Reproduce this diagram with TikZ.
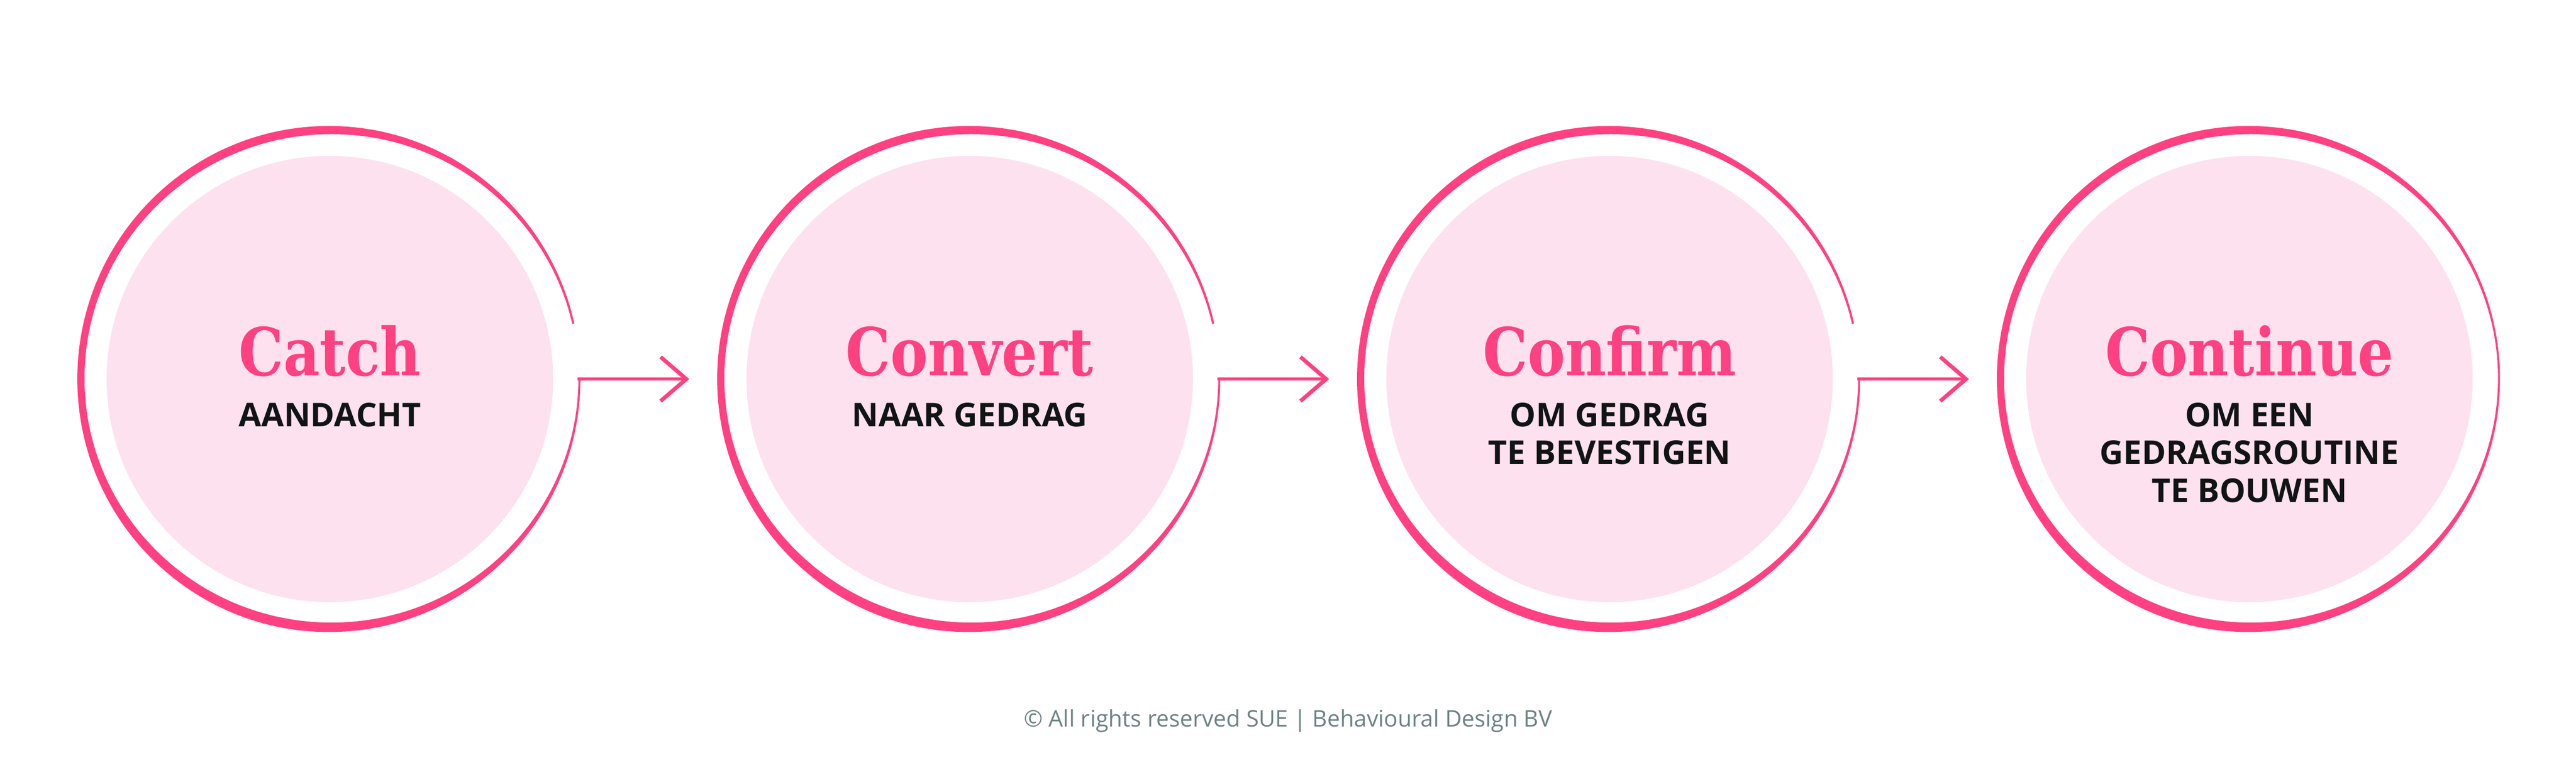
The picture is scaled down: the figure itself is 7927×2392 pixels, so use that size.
\documentclass[tikz,border=0pt]{standalone}
\usepackage{fontspec}
\usetikzlibrary{positioning,arrows.meta}
\setmainfont{Open Sans}
\newfontfamily\headfont{DejaVu Serif}[FakeStretch=0.85]
\definecolor{ringpink}{HTML}{FF4081}
\definecolor{softpink}{HTML}{FDE1EF}
\definecolor{inkblack}{HTML}{111414}
\definecolor{footgray}{HTML}{6E8283}
\tikzstyle{stage}=[
    circle,
    fill = softpink,
    minimum size = 137.4mm,
    inner sep = 0pt
]
\tikzstyle{head}=[font=\headfont\bfseries\fontsize{58}{60}\selectfont, text=ringpink, inner sep=0pt, anchor=base]
\tikzstyle{sub}=[font=\bfseries\fontsize{28.7}{33.3}\selectfont, text=inkblack, inner sep=0pt, anchor=north, align=center]
\tikzstyle{flow}=[draw=ringpink, line width=0.9mm, -{Straight Barb[length=7.9mm, width=13.6mm, sharp, line width=1.2mm]}]

\begin{document}
\begin{tikzpicture}[x=0.1mm, y=0.1mm, node distance=196.9mm, on grid]
        \useasboundingbox (0,0) rectangle (7927,2392);

        \node[stage] (catch) at (1015,1225) {};
        \node[stage, right=of catch] (convert) {};
        \node[stage, right=of convert] (confirm) {};
        \node[stage, right=of confirm] (continue) {};

        % rings, open on the right where the arrow leaves
        \foreach \s in {catch,convert,confirm}{
            \begin{scope}
                \clip (\s.center) -- ++(12.8:90mm) arc[start angle=12.8, end angle=360, radius=90mm] -- cycle;
                \fill[ringpink, even odd rule] ([xshift=-0.3mm]\s.center) ellipse[x radius=77.4mm, y radius=77.9mm]
                    ([xshift=0.5mm, yshift=0.2mm]\s.center) ellipse[x radius=76mm, y radius=75.2mm];
            \end{scope}
        }
        \fill[ringpink, even odd rule] ([xshift=-0.3mm]continue.center) ellipse[x radius=77.4mm, y radius=77.9mm]
            ([xshift=0.5mm, yshift=0.2mm]continue.center) ellipse[x radius=76mm, y radius=75.2mm];

        \foreach \a/\b in {catch/convert, convert/confirm, confirm/continue}
            \draw[flow] ([xshift=76.3mm]\a.center) -- ([xshift=-86.3mm]\b.center);

        \node[head] (catch-t) at ([yshift=1.1mm]catch.center) {Catch};
        \node[sub] (catch-s) at ([yshift=-7.2mm]catch.center) {AANDACHT};
        \node[head] (convert-t) at ([yshift=1.1mm]convert.center) {Convert};
        \node[sub] (convert-s) at ([yshift=-7.2mm]convert.center) {NAAR GEDRAG};
        \node[head] (confirm-t) at ([yshift=1.1mm]confirm.center) {Confirm};
        \node[sub] (confirm-s) at ([yshift=-7.2mm]confirm.center) {OM GEDRAG\\TE BEVESTIGEN};
        \node[head] (continue-t) at ([yshift=1.1mm]continue.center) {Continue};
        \node[sub] (continue-s) at ([yshift=-7.2mm]continue.center) {OM EEN\\GEDRAGSROUTINE\\TE BOUWEN};

        \node[font=\fontsize{20}{24}\selectfont, text=footgray, anchor=base, inner sep=0pt] (rights) at (3963.5,154) {© All rights reserved SUE | Behavioural Design BV};

    \end{tikzpicture}
\end{document}
